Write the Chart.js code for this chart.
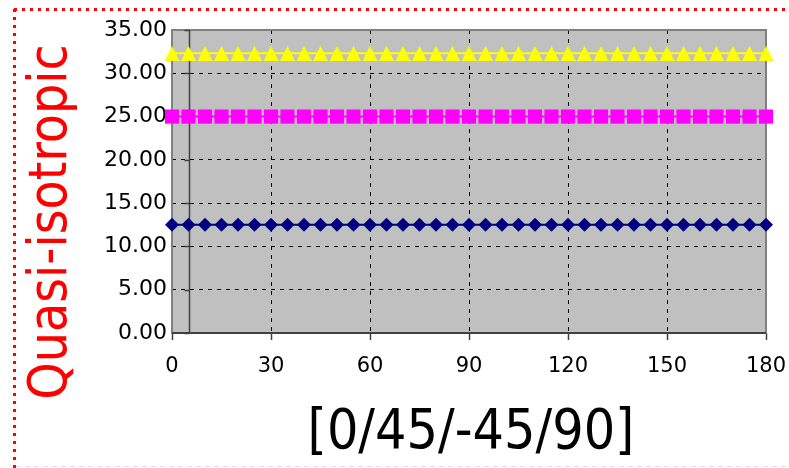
<!DOCTYPE html>
<html>
<head>
<meta charset="utf-8">
<script src="https://cdn.jsdelivr.net/npm/chart.js@4/dist/chart.umd.min.js"></script>
<style>
  html, body { margin: 0; padding: 0; background: #fff; }
  #wrap { width: 789px; height: 468px; }
</style>
</head>
<body>
<div id="wrap"><canvas id="chart" width="789" height="468"></canvas></div>
<script>
// --- Data ---
const angles = [0, 5, 10, 15, 20, 25, 30, 35, 40, 45, 50, 55, 60, 65, 70, 75, 80, 85, 90,
  95, 100, 105, 110, 115, 120, 125, 130, 135, 140, 145, 150, 155, 160, 165, 170, 175, 180];
const seriesTop = [32.3, 32.3, 32.3, 32.3, 32.3, 32.3, 32.3, 32.3, 32.3, 32.3, 32.3, 32.3, 32.3,
  32.3, 32.3, 32.3, 32.3, 32.3, 32.3, 32.3, 32.3, 32.3, 32.3, 32.3, 32.3, 32.3, 32.3, 32.3, 32.3,
  32.3, 32.3, 32.3, 32.3, 32.3, 32.3, 32.3, 32.3];
const seriesMid = [25, 25, 25, 25, 25, 25, 25, 25, 25, 25, 25, 25, 25, 25, 25, 25, 25, 25, 25,
  25, 25, 25, 25, 25, 25, 25, 25, 25, 25, 25, 25, 25, 25, 25, 25, 25, 25];
const seriesLow = [12.5, 12.5, 12.5, 12.5, 12.5, 12.5, 12.5, 12.5, 12.5, 12.5, 12.5, 12.5, 12.5,
  12.5, 12.5, 12.5, 12.5, 12.5, 12.5, 12.5, 12.5, 12.5, 12.5, 12.5, 12.5, 12.5, 12.5, 12.5, 12.5,
  12.5, 12.5, 12.5, 12.5, 12.5, 12.5, 12.5, 12.5];
const xTicks = [0, 30, 60, 90, 120, 150, 180];
const yTicks = [0, 5, 10, 15, 20, 25, 30, 35];
const xTitle = '[0/45/-45/90]';
const yTitle = 'Quasi-isotropic';
const axisCross = 5; // vertical axis sits at this angle

const pts = vals => angles.map((a, i) => ({ x: a, y: vals[i] }));

// triangle marker centred on its bounding box
function triangleMarker(size, color) {
  const c = document.createElement('canvas');
  c.width = size; c.height = size;
  const g = c.getContext('2d');
  g.fillStyle = color;
  g.beginPath();
  g.moveTo(size / 2, 0);
  g.lineTo(size, size);
  g.lineTo(0, size);
  g.closePath();
  g.fill();
  return c;
}

// --- Frame, background, titles ---
const decor = {
  id: 'decor',
  beforeDraw(chart) {
    const { ctx, chartArea: a } = chart;
    ctx.save();
    ctx.fillStyle = '#C0C0C0';
    ctx.fillRect(a.left, a.top, a.right - a.left, a.bottom - a.top);
    ctx.restore();
  },
  beforeDatasetsDraw(chart) {
    const { ctx, chartArea: a, scales } = chart;
    ctx.save();
    ctx.strokeStyle = '#808080';
    ctx.lineWidth = 2;
    ctx.strokeRect(a.left, a.top, a.right - a.left, a.bottom - a.top);
    ctx.strokeStyle = '#404040';
    ctx.beginPath();
    ctx.moveTo(a.left, a.bottom);
    ctx.lineTo(a.right, a.bottom);
    ctx.stroke();
    // vertical axis line and its ticks
    const xv = Math.round(scales.x.getPixelForValue(axisCross)) + 0.5;
    ctx.lineWidth = 1.5;
    ctx.beginPath();
    ctx.moveTo(xv, a.top);
    ctx.lineTo(xv, a.bottom);
    yTicks.forEach(v => {
      const y = Math.round(scales.y.getPixelForValue(v)) + 0.5;
      ctx.moveTo(xv - 5, y);
      ctx.lineTo(xv, y);
    });
    ctx.stroke();
    ctx.restore();
  },
  afterDraw(chart) {
    const { ctx, chartArea: a } = chart;
    ctx.save();
    // dotted outer border
    ctx.strokeStyle = '#FF0000';
    ctx.lineWidth = 3;
    ctx.setLineDash([3, 5]);
    ctx.beginPath();
    ctx.moveTo(14, 9.5);
    ctx.lineTo(789, 9.5);
    ctx.moveTo(14.5, 9);
    ctx.lineTo(14.5, 468);
    ctx.stroke();
    ctx.strokeStyle = '#F6D3DD';
    ctx.lineWidth = 1;
    ctx.setLineDash([5, 4]);
    ctx.beginPath();
    ctx.moveTo(16, 466.5);
    ctx.lineTo(789, 466.5);
    ctx.stroke();
    ctx.setLineDash([]);

    // axis titles
    ctx.fillStyle = '#000';
    ctx.font = '55px "DejaVu Sans Condensed", "DejaVu Sans", sans-serif';
    ctx.textAlign = 'center';
    ctx.textBaseline = 'alphabetic';
    ctx.fillText(xTitle, 471, 448);

    ctx.translate(52, 222);
    ctx.rotate(-Math.PI / 2);
    ctx.fillStyle = '#FF0000';
    ctx.font = '53px "DejaVu Sans Condensed", "DejaVu Sans", sans-serif';
    ctx.textBaseline = 'middle';
    ctx.fillText(yTitle, 0, 0);
    ctx.restore();
  }
};

const series = (data, color, style, radius) => ({
  data: pts(data),
  borderColor: color,
  backgroundColor: color,
  borderWidth: 2,
  pointStyle: style,
  pointRadius: radius,
  pointBorderWidth: 0,
  pointBackgroundColor: color,
  clip: false
});

new Chart(document.getElementById('chart'), {
  type: 'line',
  data: {
    datasets: [
      series(seriesTop, '#FFFF00', triangleMarker(15, '#FFFF00'), 8),
      series(seriesMid, '#FF00FF', 'rect', 10),
      series(seriesLow, '#000080', 'rectRot', 7)
    ]
  },
  options: {
    responsive: false,
    animation: false,
    devicePixelRatio: 1,
    layout: { padding: { top: 30, right: 23, left: 0, bottom: 0 } },
    plugins: { legend: { display: false }, tooltip: { enabled: false } },
    scales: {
      x: {
        type: 'linear',
        min: 0,
        max: 180,
        afterFit: s => { s.height = 135; s.paddingLeft = 0; s.paddingRight = 0; },
        afterBuildTicks: s => { s.ticks = xTicks.map(v => ({ value: v })); },
        grid: {
          color: c => (c.tick && (c.tick.value === 0 || c.tick.value === 180)) ? 'rgba(0,0,0,0)' : '#000',
          lineWidth: 1,
          drawTicks: true,
          tickLength: 7,
          tickColor: '#404040',
          tickWidth: 1.5
        },
        border: { display: false, dash: [4, 5] },
        ticks: {
          color: '#000',
          padding: 14,
          maxRotation: 0,
          font: { family: '"DejaVu Sans", sans-serif', size: 21 }
        }
      },
      y: {
        type: 'linear',
        min: 0,
        max: 35,
        afterFit: s => { s.width = 172; s.paddingTop = 0; s.paddingBottom = 0; },
        afterBuildTicks: s => { s.ticks = yTicks.map(v => ({ value: v })); },
        grid: {
          color: c => (c.tick && (c.tick.value === 0 || c.tick.value === 35)) ? 'rgba(0,0,0,0)' : '#000',
          lineWidth: 1,
          drawTicks: false
        },
        border: { display: false, dash: [4, 5] },
        ticks: {
          color: '#000',
          padding: 5,
          font: { family: '"DejaVu Sans", sans-serif', size: 22 },
          callback: v => v.toFixed(2)
        }
      }
    }
  },
  plugins: [decor]
});
</script>
</body>
</html>
